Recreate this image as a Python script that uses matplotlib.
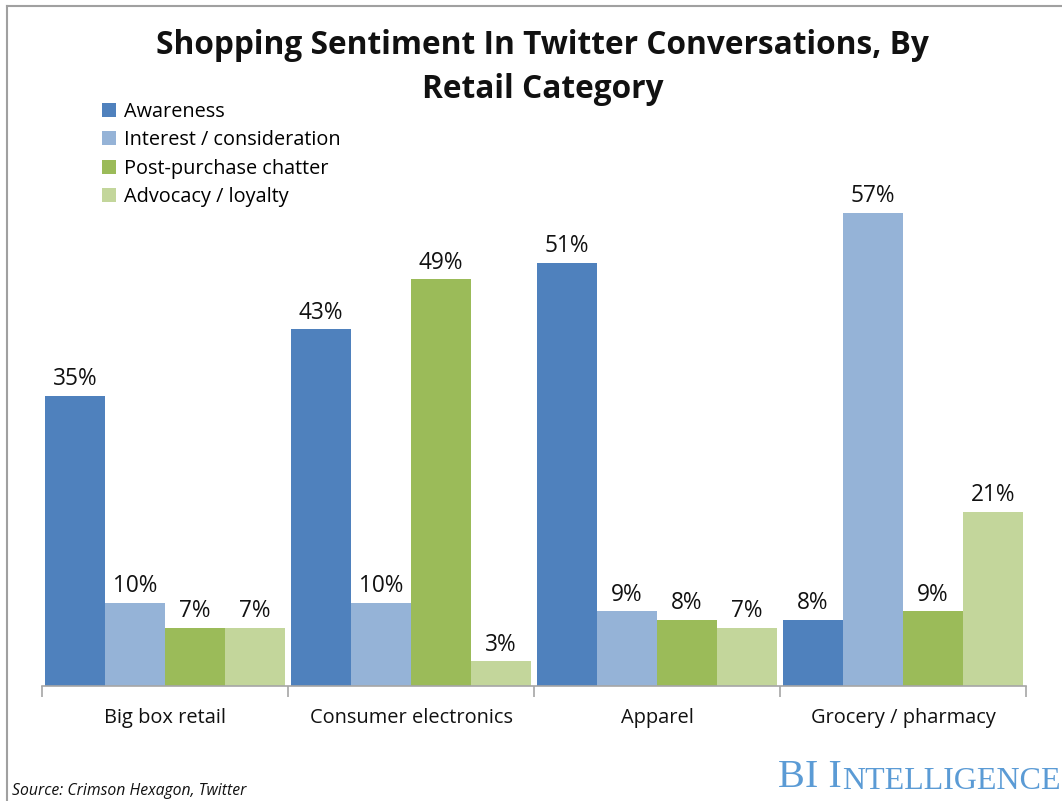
import matplotlib
matplotlib.use("Agg")
import matplotlib.pyplot as plt
from matplotlib.lines import Line2D
from matplotlib.patches import Patch
import numpy as np

categories = ["Big box retail", "Consumer electronics", "Apparel", "Grocery / pharmacy"]
series_names = ["Awareness", "Interest / consideration", "Post-purchase chatter", "Advocacy / loyalty"]
awareness = [35, 43, 51, 8]
interest = [10, 10, 9, 57]
post_purchase = [7, 49, 8, 9]
advocacy = [7, 3, 7, 21]
colors = ["#4F81BD", "#95B3D7", "#9BBB59", "#C3D69B"]

series = [awareness, interest, post_purchase, advocacy]

plt.rcParams['font.family'] = ['Open Sans', 'DejaVu Sans']

fig = plt.figure(figsize=(10.62, 8.01), dpi=100)
ax = fig.add_axes([42/1062, 1-686/801, (1026-42)/1062, (686-130)/801])

x = np.arange(len(categories)) + 0.5
bw = 60/246
for i, (vals, c, name) in enumerate(zip(series, colors, series_names)):
    pos = x + (i - 1.5) * bw
    bars = ax.bar(pos, vals, width=bw, color=c, label=name, linewidth=0)
    for p, v in zip(pos, vals):
        ax.text(p, v + 0.55, f"{v}%", ha="center", va="bottom", fontsize=16.3, color="#111111")

ax.set_xlim(0, len(categories))
ax.set_ylim(0, 556/8.3)
for s in ["top", "right", "left"]:
    ax.spines[s].set_visible(False)
ax.spines["bottom"].set_color("#A6A6A6")
ax.spines["bottom"].set_linewidth(1.2)
ax.set_yticks([])
ax.set_xticks(np.arange(len(categories) + 1))
ax.set_xticklabels([])
ax.tick_params(axis="x", which="major", length=8, color="#A6A6A6", width=1.2)
ax.set_xticks(x, minor=True)
ax.set_xticklabels(categories, minor=True, fontsize=14.4, color="#111111")
ax.tick_params(axis="x", which="minor", length=0, pad=16)

fig.text(0.511, 1-46/801, "Shopping Sentiment In Twitter Conversations, By", ha="center", va="center",
         fontsize=22.8, fontweight="bold", color="#111111")
fig.text(0.511, 1-89/801, "Retail Category", ha="center", va="center",
         fontsize=22.8, fontweight="bold", color="#111111")

handles = [Patch(facecolor=c, edgecolor="none") for c in colors]
fig.legend(handles, series_names, loc="upper left", bbox_to_anchor=(102/1062, 1-102/801),
           frameon=False, fontsize=14.3, handlelength=0.7, handleheight=0.7, handletextpad=0.4,
           labelspacing=0.42, borderpad=0, borderaxespad=0)

fig.text(12/1062, 1-795/801, "Source: Crimson Hexagon, Twitter", ha="left", va="baseline",
         fontsize=11.3, style="italic", color="#111111")

t1 = fig.text(778/1062, 1-787/801, "BI I", ha="left", va="baseline", fontsize=29,
              family="Liberation Serif", color="#5B9BD5")
ann = matplotlib.text.Annotation("NTELLIGENCE", xy=(1, 0), xycoords=t1, xytext=(0, 0),
                                 textcoords="offset points", ha="left", va="bottom",
                                 fontsize=23, family="Liberation Serif", color="#5B9BD5")
fig.add_artist(ann)
fig.add_artist(Line2D([7/1062, 1], [1-6/801, 1-6/801], color="#A0A0A0", lw=1.5, transform=fig.transFigure))
fig.add_artist(Line2D([7/1062, 7/1062], [0, 1-6/801], color="#A0A0A0", lw=1.5, transform=fig.transFigure))

fig.savefig("out.png", dpi=100, facecolor="white")
